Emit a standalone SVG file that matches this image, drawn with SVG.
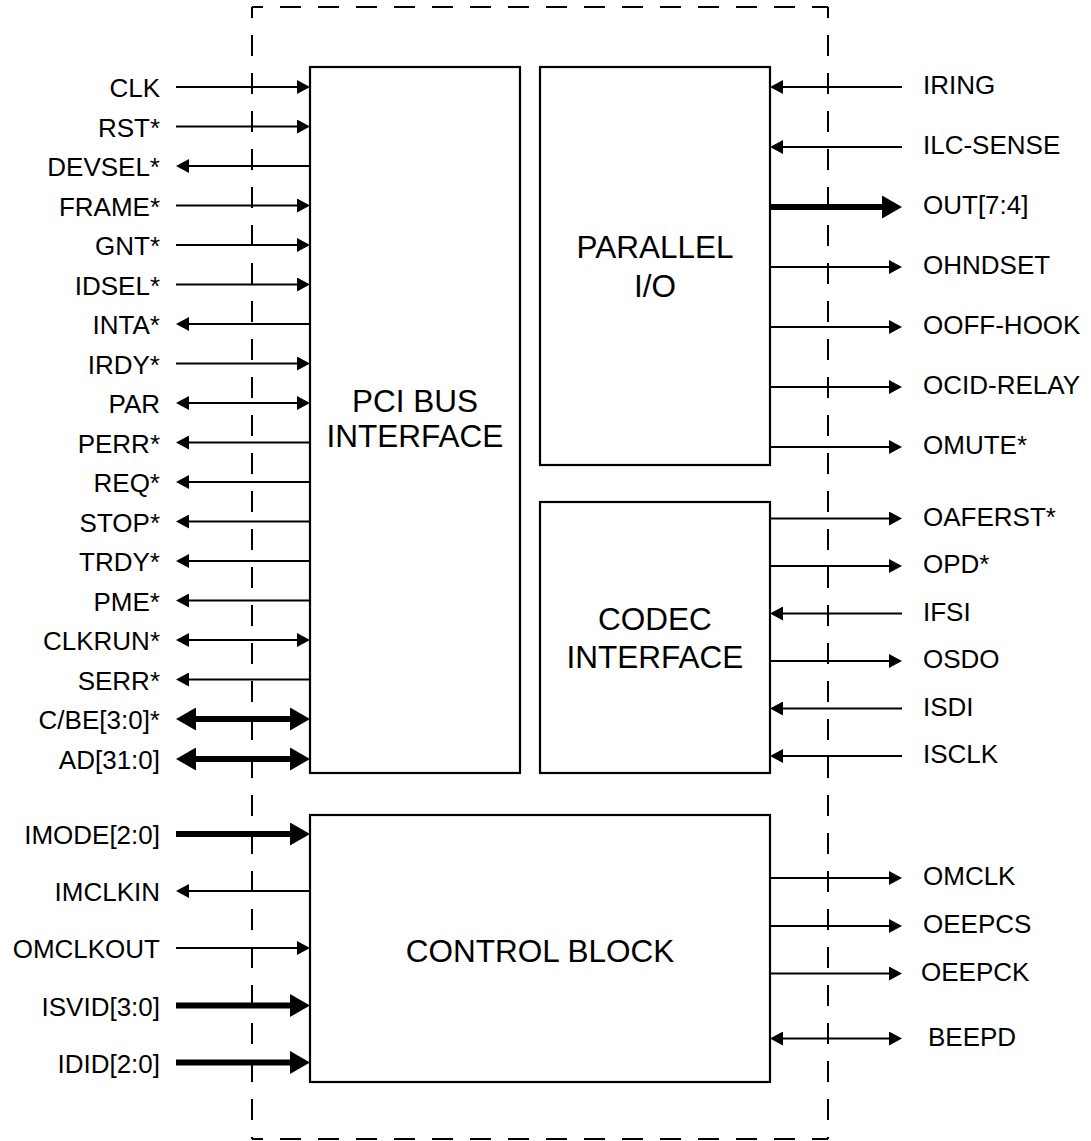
<svg xmlns="http://www.w3.org/2000/svg" width="1091" height="1141" viewBox="0 0 1091 1141">
<style>
.bd{fill:none;stroke:#000;stroke-width:2;stroke-dasharray:21 17;stroke-dashoffset:10}
.box{fill:#fff;stroke:#000;stroke-width:2.2}
.w{fill:none;stroke:#000;stroke-width:2}
.W{fill:none;stroke:#000;stroke-width:6}
.a1{marker-end:url(#h)}
.a2{marker-start:url(#h);marker-end:url(#h)}
.A1{marker-end:url(#H)}
.A2{marker-start:url(#H);marker-end:url(#H)}
.lbl{font-family:"Liberation Sans",Arial,sans-serif;font-size:26px;fill:#000}
.l{text-anchor:end}
.ttl{font-family:"Liberation Sans",Arial,sans-serif;font-size:31.5px;fill:#000;text-anchor:middle}
</style>
<defs>
<marker id="h" markerUnits="userSpaceOnUse" markerWidth="13" markerHeight="14" viewBox="0 0 13 14" refX="7" refY="7" orient="auto-start-reverse"><path d="M0,0 L13,7 L0,14 z" fill="#000"/></marker>
<marker id="H" markerUnits="userSpaceOnUse" markerWidth="20" markerHeight="23" viewBox="0 0 20 23" refX="10" refY="11.5" orient="auto-start-reverse"><path d="M0,0 L20,11.5 L0,23 z" fill="#000"/></marker>
</defs>

<g id="border">
<path class="bd" d="M252,7 H828"/>
<path class="bd" d="M828,7 V1139"/>
<path class="bd" d="M252,7 V1139"/>
<path class="bd" d="M252,1139 H828"/>
</g>

<g id="connectors">
<!-- PCI left side -->
<path class="w a1" d="M176,87 H304"/>
<path class="w a1" d="M176,126.5 H304"/>
<path class="w a1" d="M310,166 H182"/>
<path class="w a1" d="M176,205.5 H304"/>
<path class="w a1" d="M176,245 H304"/>
<path class="w a1" d="M176,284.5 H304"/>
<path class="w a1" d="M310,324 H182"/>
<path class="w a1" d="M176,363.5 H304"/>
<path class="w a2" d="M182,403 H304"/>
<path class="w a1" d="M310,442.5 H182"/>
<path class="w a1" d="M310,482 H182"/>
<path class="w a1" d="M310,521.5 H182"/>
<path class="w a1" d="M310,561 H182"/>
<path class="w a1" d="M310,600.5 H182"/>
<path class="w a2" d="M182,640 H304"/>
<path class="w a1" d="M310,679.5 H182"/>
<path class="W A2" d="M186,719 H300"/>
<path class="W A2" d="M186,759 H300"/>
<!-- Control left side -->
<path class="W A1" d="M176,834 H300"/>
<path class="w a1" d="M310,891 H182"/>
<path class="w a1" d="M176,948 H304"/>
<path class="W A1" d="M176,1005.5 H300"/>
<path class="W A1" d="M176,1062.5 H300"/>
<!-- Parallel right side -->
<path class="w a1" d="M902,87 H776"/>
<path class="w a1" d="M902,147 H776"/>
<path class="W A1" d="M770,207 H892"/>
<path class="w a1" d="M770,267 H896"/>
<path class="w a1" d="M770,327 H896"/>
<path class="w a1" d="M770,387 H896"/>
<path class="w a1" d="M770,447 H896"/>
<!-- Codec right side -->
<path class="w a1" d="M770,518.5 H896"/>
<path class="w a1" d="M770,566 H896"/>
<path class="w a1" d="M902,613.5 H776"/>
<path class="w a1" d="M770,661 H896"/>
<path class="w a1" d="M902,708.5 H776"/>
<path class="w a1" d="M902,756 H776"/>
<!-- Control right side -->
<path class="w a1" d="M770,878 H896"/>
<path class="w a1" d="M770,926 H896"/>
<path class="w a1" d="M770,973.5 H896"/>
<path class="w a2" d="M776,1038.5 H896"/>
</g>

<g id="pci">
<rect class="box" x="310" y="67" width="210" height="706"/>
<text class="ttl" x="415" y="412">PCI BUS</text>
<text class="ttl" x="415" y="447">INTERFACE</text>
</g>
<g id="parallel">
<rect class="box" x="540" y="67" width="230" height="398"/>
<text class="ttl" x="655" y="258">PARALLEL</text>
<text class="ttl" x="655" y="297">I/O</text>
</g>
<g id="codec">
<rect class="box" x="540" y="502" width="230" height="271"/>
<text class="ttl" x="655" y="629.5">CODEC</text>
<text class="ttl" x="655" y="668">INTERFACE</text>
</g>
<g id="control">
<rect class="box" x="310" y="815" width="460" height="267"/>
<text class="ttl" x="540" y="962">CONTROL BLOCK</text>
</g>

<g id="labels-left" class="lbl l">
<text x="160" y="97">CLK</text>
<text x="160" y="136.5">RST*</text>
<text x="160" y="176">DEVSEL*</text>
<text x="160" y="215.5">FRAME*</text>
<text x="160" y="255">GNT*</text>
<text x="160" y="294.5">IDSEL*</text>
<text x="160" y="334">INTA*</text>
<text x="160" y="373.5">IRDY*</text>
<text x="160" y="413">PAR</text>
<text x="160" y="452.5">PERR*</text>
<text x="160" y="492">REQ*</text>
<text x="160" y="531.5">STOP*</text>
<text x="160" y="571">TRDY*</text>
<text x="160" y="610.5">PME*</text>
<text x="160" y="650">CLKRUN*</text>
<text x="160" y="689.5">SERR*</text>
<text x="160" y="729">C/BE[3:0]*</text>
<text x="160" y="769">AD[31:0]</text>
<text x="160" y="844">IMODE[2:0]</text>
<text x="160" y="901">IMCLKIN</text>
<text x="160" y="958">OMCLKOUT</text>
<text x="160" y="1015.5">ISVID[3:0]</text>
<text x="160" y="1072.5">IDID[2:0]</text>
</g>
<g id="labels-right" class="lbl">
<text x="923" y="94">IRING</text>
<text x="923" y="154">ILC-SENSE</text>
<text x="923" y="214">OUT[7:4]</text>
<text x="923" y="274">OHNDSET</text>
<text x="923" y="334">OOFF-HOOK</text>
<text x="923" y="394">OCID-RELAY</text>
<text x="923" y="454">OMUTE*</text>
<text x="923" y="525.5">OAFERST*</text>
<text x="923" y="573">OPD*</text>
<text x="923" y="620.5">IFSI</text>
<text x="923" y="668">OSDO</text>
<text x="923" y="715.5">ISDI</text>
<text x="923" y="763">ISCLK</text>
<text x="923" y="885">OMCLK</text>
<text x="923" y="933">OEEPCS</text>
<text x="921" y="980.5">OEEPCK</text>
<text x="928" y="1045.5">BEEPD</text>
</g>
</svg>
